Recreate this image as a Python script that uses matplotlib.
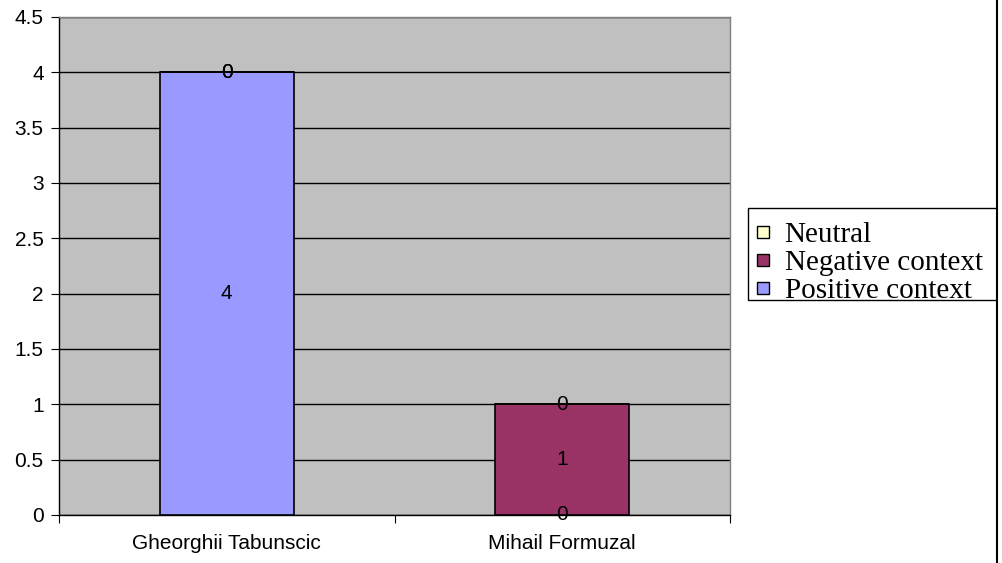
import matplotlib.pyplot as plt
from matplotlib.patches import Rectangle
from matplotlib.lines import Line2D

candidates = ['Gheorghii Tabunscic', 'Mihail Formuzal']
positive = [4, 0]
negative = [0, 1]
neutral = [0, 0]

fig = plt.figure(figsize=(10.03, 5.63), dpi=100)
ax = fig.add_axes([59 / 1003, 48 / 563, 671 / 1003, 498 / 563])
ax.set_facecolor('#C0C0C0')

x = [0, 1]
w = 0.4
series = [(positive, '#9999FF', 'Positive context'),
          (negative, '#993366', 'Negative context'),
          (neutral, '#FFFFCC', 'Neutral')]
bottom = [0, 0]
for vals, col, lab in series:
    ax.bar(x, vals, w, bottom=bottom, color=col, edgecolor='black', linewidth=1.2, zorder=3)
    for i in range(2):
        ax.text(x[i], bottom[i] + vals[i] / 2, str(vals[i]), ha='center', va='center',
                fontsize=15, family='Liberation Sans', zorder=5)
    bottom = [bottom[i] + vals[i] for i in range(2)]

ax.set_xlim(-0.5, 1.5)
ax.set_ylim(0, 4.5)
ax.set_yticks([0, 0.5, 1, 1.5, 2, 2.5, 3, 3.5, 4, 4.5])
ax.set_yticklabels(['0', '0.5', '1', '1.5', '2', '2.5', '3', '3.5', '4', '4.5'])
ax.yaxis.grid(True, color='black', linewidth=1, zorder=1)
ax.set_axisbelow(True)
ax.set_xticks([-0.5, 0.5, 1.5])
ax.set_xticklabels([])
ax.set_xticks(x, minor=True)
ax.set_xticklabels(candidates, minor=True)
ax.tick_params(axis='x', which='minor', length=0, pad=14, labelsize=15)
ax.tick_params(axis='x', which='major', length=6, direction='out', color='black')
ax.tick_params(axis='y', length=6, direction='out', labelsize=15, pad=5)
for lbl in ax.get_xticklabels(minor=True) + ax.get_yticklabels():
    lbl.set_family('Liberation Sans')
for s in ['top', 'right']:
    ax.spines[s].set_color('#808080')
    ax.spines[s].set_linewidth(1)
for s in ['left', 'bottom']:
    ax.spines[s].set_color('black')
    ax.spines[s].set_linewidth(1)

# legend box drawn by hand (text sits low in the box like in the original)
fig.add_artist(Rectangle((748 / 1003, 1 - 300 / 563), 260 / 1003, 92 / 563,
                         transform=fig.transFigure, facecolor='white',
                         edgecolor='black', linewidth=1, zorder=2))
handles = [Line2D([], [], marker='s', markersize=9, markerfacecolor=c,
                  markeredgecolor='black', markeredgewidth=1, linestyle='none', label=l)
           for _, c, l in series[::-1]]
leg = fig.legend(handles=handles, loc='center left', bbox_to_anchor=(754 / 1003, 1 - 263 / 563),
                 frameon=False, prop={'family': 'Liberation Serif', 'size': 21},
                 handlelength=0.6, handletextpad=0.45,
                 labelspacing=0.05, borderpad=0, borderaxespad=0)
leg.set_zorder(3)

fig.add_artist(Rectangle((997 / 1003, 0), 6 / 1003, 1, transform=fig.transFigure,
                         facecolor='white', edgecolor='none', zorder=10))
fig.add_artist(Line2D([997 / 1003, 997 / 1003], [0, 1], transform=fig.transFigure,
                      color='black', linewidth=1.5, zorder=11))

fig.savefig('out.png', dpi=100)
